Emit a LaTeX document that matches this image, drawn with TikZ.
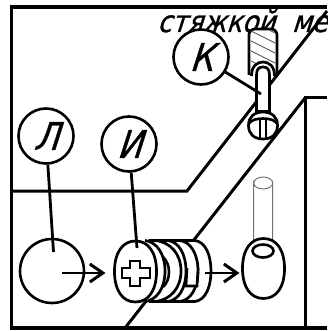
\documentclass[tikz,border=0pt]{standalone}
\usepackage{fontspec}
\setmainfont{DejaVu Sans}
\newfontfamily\draftfont[FakeSlant=0.32,FakeBold=0.9,FakeStretch=0.87]{DejaVu Sans}
\usetikzlibrary{arrows.meta,shapes.geometric}
\tikzset{
  leader/.style={line width=2.8pt},
  part/.style={line width=2.7pt,fill=white},
  mark circle/.style={circle,draw,line width=2.6pt,fill=white,minimum size=55pt,inner sep=0pt,font=\fontsize{38}{38}\selectfont\draftfont},
  push/.style={line width=2.8pt,-{Straight Barb[length=13pt,width=18pt,line width=3pt]}}
}
% rounded oval: centre x, centre y, half width, half height
\newcommand{\fatoval}[4]{
  \draw[part] (#1-#3,#2) .. controls (#1-#3,#2-0.62*#4) and (#1-0.62*#3,#2-#4) .. (#1,#2-#4)
    .. controls (#1+0.62*#3,#2-#4) and (#1+#3,#2-0.62*#4) .. (#1+#3,#2)
    .. controls (#1+#3,#2+0.62*#4) and (#1+0.62*#3,#2+#4) .. (#1,#2+#4)
    .. controls (#1-0.62*#3,#2+#4) and (#1-#3,#2+0.62*#4) .. cycle;
}
% right half of a barrel disc: x of top end, x of bulge
\newcommand{\discedge}[2]{
  \draw[part] (#1,240.5) .. controls (#1+0.6*#2-0.6*#1,242) and (#2,254) .. (#2,271)
    .. controls (#2,288) and (#1+0.6*#2-0.6*#1,300) .. (#1,301.5);
}
\begin{document}
\begin{tikzpicture}[x=1pt,y=-1pt]
        \useasboundingbox (0,0) rectangle (327,331);
        % frame and plate edges
        \draw[line width=3.8pt] (327,7) -- (11.5,7) -- (11.5,328) -- (327,328);
        \draw[line width=3pt] (327,98) -- (305,98) -- (305,328);
        \draw[line width=3pt] (305,98) -- (125,328);
        \draw[line width=3pt] (11.5,191) -- (187,191) -- (327,11);
        \node[anchor=base west,inner sep=0pt,font=\fontsize{30}{30}\selectfont\draftfont] (caption) at (157,32) {стяжкой\hspace{17pt}ме};
        % screw on top
        \begin{scope}
        \draw[part,rounded corners=6pt] (249,75) -- (249,29) -- (277,29) -- (277,75);
        \begin{scope}
        \clip (251,31) rectangle (275,72);
        \foreach \y in {20,30,...,80} {
          \draw[black!65,line width=0.9pt] (249,\y) -- (277,\y+14);
        }
        \end{scope}
        \draw[part] (251.5,76) .. controls (251.5,66) and (257,62) .. (263,62) .. controls (269,62) and (274.5,66) .. (274.5,76);
        \draw[part] (256.5,112) -- (256.5,75) .. controls (256.5,69) and (259,67) .. (263,67) .. controls (267,67) and (269.5,69) .. (269.5,75) -- (269.5,112);
        \fatoval{263}{125.5}{14.5}{13.5}
        \draw[line width=2.6pt] (249.5,123) .. controls (253,117) and (273,117) .. (276.5,123);
        \draw[line width=2.6pt] (256.5,111) -- (269.5,111);
        \draw[line width=2.4pt] (260,120) -- (260,138);
        \draw[line width=2.4pt] (266,120) -- (266,138);
        \end{scope}
        % letter marks
        \coordinate (kend) at (261,94);
        \coordinate (lend) at (53.5,252);
        \coordinate (iend) at (137,248);
        \node[mark circle] (kmark) at (201,57) {К};
        \node[mark circle] (lmark) at (46,136) {Л};
        \node[mark circle] (imark) at (129,144) {И};
        \draw[leader] (kmark) -- (kend);
        % plug
        \node[circle,draw,line width=2.6pt,minimum size=64pt,inner sep=0pt] (plug) at (52,271) {};
        \draw[leader] (lmark) -- (lend);
        % barrel, rear to front
        \draw[part] (150,240.5) -- (195,240.5) .. controls (206,242) and (211,256) .. (211,271) .. controls (211,286) and (206,300) .. (195,301.5) -- (150,301.5) -- cycle;
        \discedge{180}{198}
        \draw[line width=2.6pt,fill=white] (198,268) -- (197,286) -- (186,286) -- (187,268);
        \discedge{168}{186}
        \discedge{155}{181}
        \discedge{145}{165}
        \draw[line width=2.6pt] (163,257) .. controls (171,264) and (171,280) .. (163,287);
        \fatoval{135.5}{271.5}{21}{30.5}
        \draw[line width=2.6pt] (130,261) -- (140,261) -- (140,268) -- (150,268) -- (150,278) -- (140,278) -- (140,286) -- (130,286) -- (130,278) -- (122,278) -- (122,268) -- (130,268) -- cycle;
        \draw[leader] (imark) -- (iend);
        % hole in the plate
        \draw[black!55,line width=1pt] (253.7,240) -- (253.7,183) arc (180:360:9.5 and -6) -- (272.7,240);
        \draw[black!55,line width=1pt] (253.7,183) arc (180:0:9.5 and -6);
        \fatoval{263.5}{268.5}{21}{30}
        \node[ellipse,draw,line width=2.6pt,minimum width=21pt,minimum height=13pt,inner sep=0pt] (nuthole) at (263,251) {};
        % arrows
        \coordinate (afrom) at (62,273);
        \coordinate (ato) at (105.5,273);
        \coordinate (bfrom) at (205,273);
        \coordinate (bto) at (239.5,273);
        \draw[push] (afrom) -- (ato);
        \draw[push] (bfrom) -- (bto);
\end{tikzpicture}
\end{document}
